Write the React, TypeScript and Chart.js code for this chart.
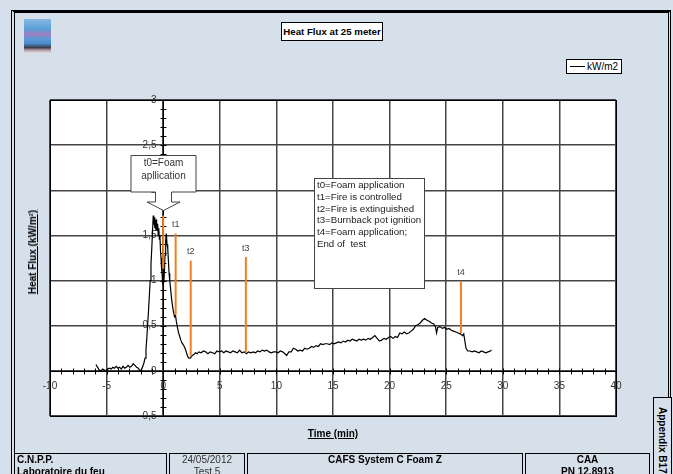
import React, { useEffect, useRef } from "react";
import { Chart, registerables } from "chart.js";

Chart.register(...registerables);

const FONT = '"Liberation Sans", Arial, Helvetica, sans-serif';

// ---- data ----
const timeMin = [
  -5.94, -5.85, -5.75, -5.65, -5.5, -5.35, -5.2, -5.05, -4.9, -4.75, -4.6, -4.45, -4.3, -4.15, -4.0, -3.85,
  -3.7, -3.55, -3.4, -3.25, -3.1, -2.95, -2.8, -2.65, -2.5, -2.35, -2.2, -2.05, -1.9, -1.8, -1.7, -1.6,
  -1.52, -1.45, -1.38, -1.3, -1.22, -1.15, -1.08, -1.0, -0.94, -0.88, -0.84, -0.79, -0.74, -0.69, -0.64,
  -0.59, -0.54, -0.49, -0.44, -0.39, -0.34, -0.29, -0.24, -0.19, -0.14, -0.09, -0.04, 0.01, 0.06, 0.11,
  0.16, 0.22, 0.28, 0.34, 0.4, 0.46, 0.52, 0.58, 0.66, 0.74, 0.82, 0.9, 1.0, 1.08, 1.16, 1.26, 1.36, 1.46,
  1.56, 1.66, 1.76, 1.86, 1.96, 2.06, 2.16, 2.26, 2.36, 2.46, 2.56, 2.7, 2.85, 3.0, 3.15, 3.35, 3.55, 3.75,
  3.95, 4.15, 4.35, 4.55, 4.75, 4.95, 5.15, 5.35, 5.55, 5.75, 5.95, 6.15, 6.35, 6.55, 6.75, 6.95, 7.15,
  7.35, 7.55, 7.75, 7.95, 8.15, 8.35, 8.55, 8.75, 8.95, 9.15, 9.35, 9.55, 9.75, 9.95, 10.15, 10.35, 10.55,
  10.75, 10.9, 11.1, 11.3, 11.5, 11.7, 11.9, 12.1, 12.3, 12.5, 12.7, 12.9, 13.1, 13.3, 13.5, 13.7, 13.9,
  14.1, 14.3, 14.5, 14.7, 14.9, 15.1, 15.3, 15.5, 15.7, 15.9, 16.1, 16.3, 16.5, 16.7, 16.9, 17.1, 17.3,
  17.5, 17.7, 17.9, 18.1, 18.3, 18.5, 18.7, 18.9, 19.1, 19.3, 19.5, 19.7, 19.9, 20.1, 20.3, 20.5, 20.7,
  20.9, 21.1, 21.3, 21.5, 21.7, 21.9, 22.1, 22.3, 22.5, 22.7, 22.9, 23.1, 23.3, 23.5, 23.7, 23.9, 24.05,
  24.15, 24.25, 24.45, 24.65, 24.85, 25.05, 25.25, 25.45, 25.65, 25.85, 26.05, 26.25, 26.45, 26.55, 26.65,
  26.75, 26.9, 27.1, 27.3, 27.5, 27.7, 27.9, 28.1, 28.3, 28.5, 28.7, 28.9, 29.0,
];

const heatFlux = [
  0.07, 0.05, 0.03, 0.01, 0.0, 0.02, 0.01, 0.0, 0.02, 0.03, 0.02, 0.04, 0.03, 0.05, 0.03, 0.04,
  0.02, 0.05, 0.03, 0.04, 0.06, 0.04, 0.05, 0.08, 0.06, 0.04, 0.03, 0.0, 0.02, 0.05, 0.09, 0.14,
  0.24, 0.36, 0.5, 0.66, 0.84, 1.0, 1.18, 1.38, 1.55, 1.72, 1.62, 1.7, 1.58, 1.67, 1.55,
  1.68, 1.56, 1.63, 1.5, 1.58, 1.46, 1.5, 1.33, 1.25, 1.12, 1.05, 0.96, 1.04, 0.98, 1.1,
  1.28, 1.45, 1.52, 1.4, 1.36, 1.22, 1.08, 1.0, 0.9, 0.8, 0.72, 0.66, 0.6, 0.62, 0.55, 0.48, 0.42, 0.38,
  0.34, 0.31, 0.29, 0.27, 0.24, 0.2, 0.16, 0.14, 0.14, 0.15, 0.17, 0.18, 0.2, 0.19, 0.21, 0.2, 0.22, 0.21,
  0.19, 0.21, 0.2, 0.19, 0.22, 0.21, 0.22, 0.2, 0.22, 0.21, 0.2, 0.22, 0.21, 0.2, 0.23, 0.2, 0.21,
  0.19, 0.21, 0.2, 0.21, 0.2, 0.22, 0.21, 0.23, 0.22, 0.23, 0.21, 0.2, 0.21, 0.21, 0.2, 0.22, 0.21,
  0.19, 0.17, 0.21, 0.21, 0.25, 0.24, 0.22, 0.23, 0.22, 0.25, 0.24, 0.25, 0.27, 0.26, 0.28, 0.27, 0.3,
  0.29, 0.3, 0.3, 0.29, 0.31, 0.3, 0.31, 0.32, 0.31, 0.33, 0.32, 0.34, 0.33, 0.35, 0.34, 0.33, 0.35,
  0.34, 0.35, 0.34, 0.36, 0.35, 0.37, 0.39, 0.36, 0.33, 0.34, 0.36, 0.35, 0.37, 0.38, 0.36, 0.38, 0.37,
  0.42, 0.41, 0.43, 0.41, 0.42, 0.44, 0.46, 0.5, 0.51, 0.53, 0.56, 0.58, 0.56, 0.55, 0.53, 0.52, 0.49,
  0.42, 0.48, 0.49, 0.47, 0.48, 0.46, 0.47, 0.45, 0.44, 0.43, 0.42, 0.41, 0.39, 0.41, 0.33,
  0.25, 0.22, 0.22, 0.21, 0.22, 0.21, 0.2, 0.22, 0.21, 0.2, 0.21, 0.22, 0.23,
];

// event markers (orange vertical segments)
const markerTimes = [0, 1.1, 2.43, 7.3, 26.3];
const markerTops = [1.72, 1.52, 1.22, 1.26, 0.99];
const markerBottoms = [1.13, 0.62, 0.16, 0.2, 0.42];
const markerLabels = ["", "t1", "t2", "t3", "t4"];

const calloutLines = ["t0=Foam", "apllication"];
const noteLines = [
  "t0=Foam application",
  "t1=Fire is controlled",
  "t2=Fire is extinguished",
  "t3=Burnback pot ignition",
  "t4=Foam application;",
  "End of  test",
];

const X_MIN = -10;
const X_MAX = 40;
const Y_MIN = -0.5;
const Y_MAX = 3;

const fmtY = (v: number) => String(Math.round(v * 10) / 10).replace(".", ",");

const decorPlugin = {
  id: "decor",
  beforeDraw(chart: any) {
    const { ctx, chartArea: a } = chart;
    ctx.save();
    ctx.fillStyle = "#ffffff";
    ctx.fillRect(a.left, a.top, a.right - a.left, a.bottom - a.top);
    ctx.restore();
  },
  beforeDatasetsDraw(chart: any) {
    const { ctx, chartArea: a } = chart;
    const xs = chart.scales.x;
    const ys = chart.scales.y;
    const x0 = Math.round(xs.getPixelForValue(0)) + 0.5;
    const y0 = Math.round(ys.getPixelForValue(0)) + 0.5;
    ctx.save();
    ctx.strokeStyle = "#000";
    ctx.lineWidth = 1;
    ctx.beginPath();
    ctx.moveTo(x0, a.top);
    ctx.lineTo(x0, a.bottom);
    ctx.moveTo(a.left, y0);
    ctx.lineTo(a.right, y0);
    // cross ticks
    ys.ticks.forEach((t: any) => {
      const py = Math.round(ys.getPixelForValue(t.value)) + 0.5;
      ctx.moveTo(x0 - 3, py);
      ctx.lineTo(x0 + 3, py);
    });
    xs.ticks.forEach((t: any) => {
      const px = Math.round(xs.getPixelForValue(t.value)) + 0.5;
      ctx.moveTo(px, y0 - 3);
      ctx.lineTo(px, y0 + 3);
    });
    ctx.stroke();

    // tick labels
    ctx.fillStyle = "#333";
    ctx.font = `10px ${FONT}`;
    ctx.textBaseline = "middle";
    ctx.textAlign = "right";
    ys.ticks.forEach((t: any) => {
      if (Math.round(t.value * 10) % 5 !== 0) return;
      ctx.fillText(fmtY(t.value), x0 - 7, ys.getPixelForValue(t.value));
    });
    ctx.textAlign = "center";
    xs.ticks.forEach((t: any) => {
      if (Math.round(t.value) % 5 !== 0) return;
      ctx.fillText(String(Math.round(t.value)), xs.getPixelForValue(t.value), y0 + 15);
    });
    ctx.restore();
  },
  afterDraw(chart: any) {
    const { ctx, chartArea: a } = chart;
    const xs = chart.scales.x;
    const ys = chart.scales.y;
    ctx.save();
    // plot frame
    ctx.strokeStyle = "#000";
    ctx.lineWidth = 1;
    ctx.strokeRect(Math.round(a.left) + 0.5, Math.round(a.top) + 0.5, Math.round(a.right - a.left), Math.round(a.bottom - a.top));

    // marker labels
    ctx.fillStyle = "#444";
    ctx.font = `9px ${FONT}`;
    ctx.textAlign = "center";
    ctx.textBaseline = "middle";
    markerTimes.forEach((t, i) => {
      if (!markerLabels[i]) return;
      ctx.fillText(markerLabels[i], xs.getPixelForValue(t), ys.getPixelForValue(markerTops[i]) - 9);
    });

    // callout arrow box for t0
    const tx = Math.round(xs.getPixelForValue(markerTimes[0])) + 0.5;
    const ty = Math.round(ys.getPixelForValue(1.78)) + 0.5;
    const L = tx - 32.5, R = tx + 32.5, T = ty - 55, B = ty - 18.5, S = ty - 8.5;
    ctx.beginPath();
    ctx.moveTo(L, T);
    ctx.lineTo(R, T);
    ctx.lineTo(R, B);
    ctx.lineTo(tx + 8, B);
    ctx.lineTo(tx + 8, S);
    ctx.lineTo(tx + 16.5, S);
    ctx.lineTo(tx, ty);
    ctx.lineTo(tx - 16.5, S);
    ctx.lineTo(tx - 8, S);
    ctx.lineTo(tx - 8, B);
    ctx.lineTo(L, B);
    ctx.closePath();
    ctx.fillStyle = "#fff";
    ctx.fill();
    ctx.strokeStyle = "#444";
    ctx.stroke();
    ctx.fillStyle = "#333";
    ctx.font = `10px ${FONT}`;
    ctx.fillText(calloutLines[0], tx, ty - 47);
    ctx.fillText(calloutLines[1], tx, ty - 34.6);

    // note box
    const nl = Math.round(xs.getPixelForValue(13.3)) + 0.5;
    const nt = Math.round(ys.getPixelForValue(2.135)) + 0.5;
    ctx.fillStyle = "#fff";
    ctx.fillRect(nl, nt, 110, 110);
    ctx.strokeStyle = "#444";
    ctx.strokeRect(nl, nt, 110, 110);
    ctx.fillStyle = "#222";
    ctx.font = `9.7px ${FONT}`;
    ctx.textAlign = "left";
    noteLines.forEach((s, i) => ctx.fillText(s, nl + 2.5, nt + 7 + i * 11.7));
    ctx.restore();
  },
};

export default function App() {
  const ref = useRef<HTMLCanvasElement>(null);

  useEffect(() => {
    const markerSets = markerTimes.map((t, i) => ({
      data: [
        { x: t, y: markerTops[i] },
        { x: t, y: markerBottoms[i] },
      ],
      borderColor: "#f0801f",
      borderWidth: 2,
      pointRadius: 0,
      order: 0,
    }));
    const chart = new Chart(ref.current as HTMLCanvasElement, {
      type: "line",
      data: {
        datasets: [
          ...markerSets,
          {
            data: timeMin.map((t, i) => ({ x: t, y: heatFlux[i] })),
            borderColor: "#000",
            borderWidth: 1.2,
            pointRadius: 0,
            order: 1,
          },
        ],
      } as any,
      options: {
        animation: false,
        responsive: false,
        maintainAspectRatio: false,
        layout: { padding: { left: 50, top: 100, right: 57, bottom: 58 } },
        plugins: { legend: { display: false }, tooltip: { enabled: false }, title: { display: false } },
        scales: {
          x: {
            type: "linear",
            min: X_MIN,
            max: X_MAX,
            position: { y: 0 } as any,
            ticks: { stepSize: 1, display: false, autoSkip: false, maxTicksLimit: 200 },
            grid: {
              drawTicks: false,
              lineWidth: 1.5,
              color: (c: any) => (c.tick && Math.round(c.tick.value) % 5 === 0 ? "#444" : "rgba(0,0,0,0)"),
            },
            border: { display: false },
          },
          y: {
            type: "linear",
            min: Y_MIN,
            max: Y_MAX,
            position: { x: 0 } as any,
            ticks: { stepSize: 0.1, display: false, autoSkip: false, maxTicksLimit: 200 },
            grid: {
              drawTicks: false,
              lineWidth: 1.5,
              color: (c: any) => (c.tick && Math.round(c.tick.value * 10) % 5 === 0 ? "#444" : "rgba(0,0,0,0)"),
            },
            border: { display: false },
          },
        },
      },
      plugins: [decorPlugin],
    });
    return () => chart.destroy();
  }, []);

  const cell: React.CSSProperties = {
    position: "absolute",
    top: 453,
    height: 40,
    boxSizing: "border-box",
    border: "1px solid #000",
    fontSize: 10,
    lineHeight: "12px",
    whiteSpace: "nowrap",
    overflow: "hidden",
  };

  return (
    <div
      style={{
        position: "fixed",
        left: 0,
        top: 0,
        width: 673,
        height: 474,
        overflow: "hidden",
        background: "#d6e0ea",
        fontFamily: FONT,
        color: "#000",
      }}
    >
      {/* outer frame */}
      <div
        style={{
          position: "absolute",
          left: 11,
          top: 10,
          width: 660,
          height: 520,
          boxSizing: "border-box",
          borderTop: "3px solid #000",
          borderLeft: "4px double #000",
          borderRight: "3px double #000",
        }}
      />
      {/* logo */}
      <div
        style={{
          position: "absolute",
          left: 24,
          top: 19,
          width: 27,
          height: 34,
          background:
            "linear-gradient(180deg, #86b8e2 0%, #5aa0d8 30%, #a07fc0 45%, #5b9ad6 58%, #4a8ccc 72%, #3c3f4c 84%, #b7a2ab 92%, #e0dede 100%)",
        }}
      />
      {/* title */}
      <div
        style={{
          position: "absolute",
          left: 281,
          top: 22,
          width: 102,
          height: 19,
          boxSizing: "border-box",
          border: "1px solid #000",
          background: "#fff",
          fontWeight: "bold",
          fontSize: 9.7,
          lineHeight: "17px",
          textAlign: "center",
          whiteSpace: "nowrap",
        }}
      >
        Heat Flux at 25 meter
      </div>
      {/* legend */}
      <div
        style={{
          position: "absolute",
          left: 566,
          top: 59,
          width: 56,
          height: 15,
          boxSizing: "border-box",
          border: "1px solid #000",
          background: "#fff",
        }}
      >
        <div style={{ position: "absolute", left: 3, top: 6, width: 15, height: 1, background: "#000" }} />
        <div style={{ position: "absolute", left: 20, top: 0, fontSize: 10, lineHeight: "13px", whiteSpace: "nowrap" }}>kW/m2</div>
      </div>

      <canvas ref={ref} width={673} height={474} style={{ position: "absolute", left: 0, top: 0 }} />

      {/* axis titles */}
      <div
        style={{
          position: "absolute",
          left: 233,
          top: 428,
          width: 200,
          textAlign: "center",
          fontWeight: "bold",
          fontSize: 10,
          lineHeight: "12px",
          textDecoration: "underline",
        }}
      >
        Time (min)
      </div>
      <div
        style={{
          position: "absolute",
          left: 33,
          top: 252,
          transform: "translate(-50%, -50%) rotate(-90deg)",
          fontWeight: "bold",
          fontSize: 10,
          lineHeight: "12px",
          textDecoration: "underline",
          whiteSpace: "nowrap",
        }}
      >
        Heat Flux (kW/m²)
      </div>

      {/* footer */}
      <div style={{ ...cell, left: 14, width: 153, fontWeight: "bold", paddingLeft: 2 }}>
        C.N.P.P.
        <br />
        Laboratoire du feu
      </div>
      <div style={{ ...cell, left: 169, width: 76, textAlign: "center", color: "#333" }}>
        24/05/2012
        <br />
        Test 5
      </div>
      <div style={{ ...cell, left: 247, width: 276, textAlign: "center", fontWeight: "bold" }}>CAFS System C Foam Z</div>
      <div style={{ ...cell, left: 525, width: 125, textAlign: "center", fontWeight: "bold" }}>
        CAA
        <br />
        PN 12.8913
      </div>
      <div
        style={{
          position: "absolute",
          left: 653,
          top: 397,
          width: 19,
          height: 90,
          boxSizing: "border-box",
          border: "1px solid #000",
          background: "#d6e0ea",
        }}
      >
        <div
          style={{
            position: "absolute",
            left: 2,
            top: 9,
            writingMode: "vertical-rl",
            fontWeight: "bold",
            fontSize: 10,
            lineHeight: "13px",
            whiteSpace: "nowrap",
          }}
        >
          Appendix B17
        </div>
      </div>
    </div>
  );
}
